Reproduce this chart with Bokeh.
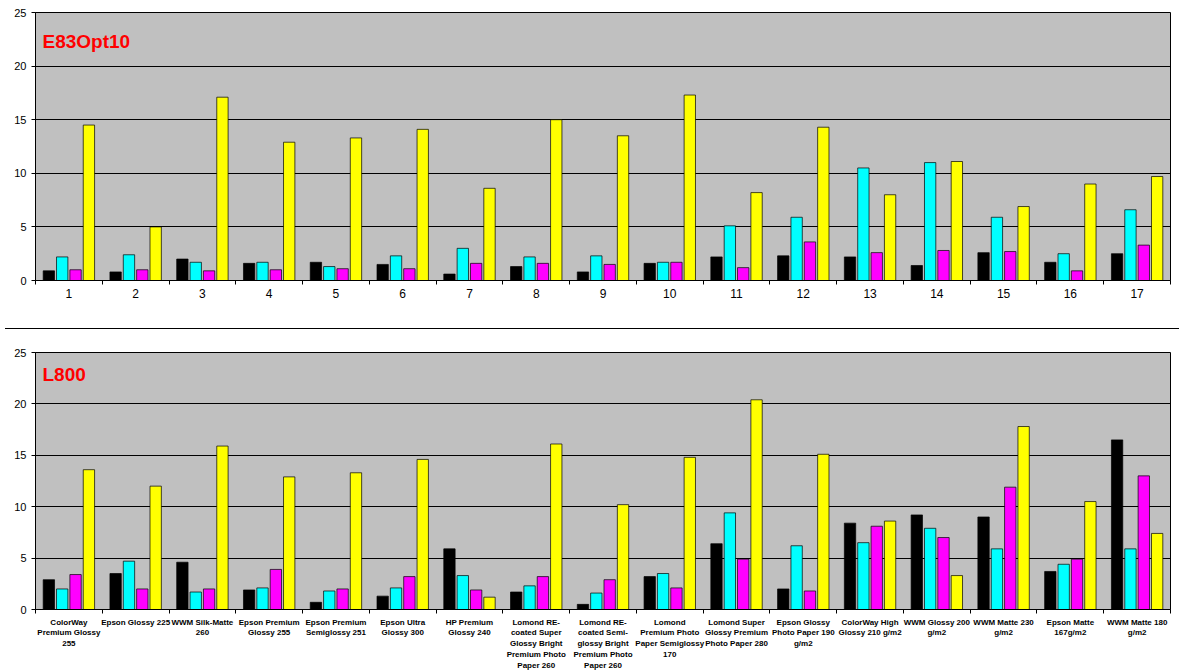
from bokeh.plotting import figure
from bokeh.models import FixedTicker, Label, Div, Range1d
from bokeh.layouts import column
from bokeh.embed import file_html
from bokeh.resources import INLINE

idx = list(range(1, 18))
top_labels = [str(i) for i in idx]
top_black = [0.9, 0.8, 2.0, 1.6, 1.7, 1.5, 0.6, 1.3, 0.8, 1.6, 2.2, 2.3, 2.2, 1.4, 2.6, 1.7, 2.5]
top_cyan = [2.2, 2.4, 1.7, 1.7, 1.3, 2.3, 3.0, 2.2, 2.3, 1.7, 5.1, 5.9, 10.5, 11.0, 5.9, 2.5, 6.6]
top_magenta = [1.0, 1.0, 0.9, 1.0, 1.1, 1.1, 1.6, 1.6, 1.5, 1.7, 1.2, 3.6, 2.6, 2.8, 2.7, 0.9, 3.3]
top_yellow = [14.5, 5.0, 17.1, 12.9, 13.3, 14.1, 8.6, 15.0, 13.5, 17.3, 8.2, 14.3, 8.0, 11.1, 6.9, 9.0, 9.7]

bot_labels = [
    "ColorWay\nPremium Glossy\n255", "Epson Glossy 225", "WWM Silk-Matte\n260",
    "Epson Premium\nGlossy 255", "Epson Premium\nSemiglossy 251", "Epson Ultra\nGlossy 300",
    "HP Premium\nGlossy 240", "Lomond RE-\ncoated Super\nGlossy Bright\nPremium Photo\nPaper 260",
    "Lomond RE-\ncoated Semi-\nglossy Bright\nPremium Photo\nPaper 260",
    "Lomond\nPremium Photo\nPaper Semiglossy\n170", "Lomond Super\nGlossy Premium\nPhoto Paper 280",
    "Epson Glossy\nPhoto Paper 190\ng/m2", "ColorWay High\nGlossy 210 g/m2", "WWM Glossy 200\ng/m2",
    "WWM Matte 230\ng/m2", "Epson Matte\n167g/m2", "WWM Matte 180\ng/m2"]
bot_black = [2.9, 3.5, 4.6, 1.9, 0.7, 1.3, 5.9, 1.7, 0.5, 3.2, 6.4, 2.0, 8.4, 9.2, 9.0, 3.7, 16.5]
bot_cyan = [2.0, 4.7, 1.7, 2.1, 1.8, 2.1, 3.3, 2.3, 1.6, 3.5, 9.4, 6.2, 6.5, 7.9, 5.9, 4.4, 5.9]
bot_magenta = [3.4, 2.0, 2.0, 3.9, 2.0, 3.2, 1.9, 3.2, 2.9, 2.1, 4.9, 1.8, 8.1, 7.0, 11.9, 4.9, 13.0]
bot_yellow = [13.6, 12.0, 15.9, 12.9, 13.3, 14.6, 1.2, 16.1, 10.2, 14.8, 20.4, 15.1, 8.6, 3.3, 17.8, 10.5, 7.4]

colors = ["black", "#00FFFF", "#FF00FF", "#FFFF00"]
offsets = [-0.3, -0.1, 0.1, 0.3]


def make(title, title_y, labels, series, height, border_top, border_bottom):
    p = figure(width=1174, height=height, output_backend="svg", toolbar_location=None,
               x_range=Range1d(0.5, 17.5), y_range=Range1d(0, 25),
               min_border_left=35, min_border_right=4,
               min_border_top=border_top, min_border_bottom=border_bottom)
    p.border_fill_color = "white"
    p.outline_line_color = "black"
    p.background_fill_color = "#C0C0C0"
    for vals, c, o in zip(series, colors, offsets):
        p.vbar(x=[i + o for i in idx], top=vals, width=0.17, fill_color=c,
               line_color="black", line_width=0.7)
    p.xaxis.ticker = FixedTicker(ticks=idx, minor_ticks=[i + 0.5 for i in range(0, 18)])
    p.xaxis.major_label_overrides = {i: l for i, l in zip(idx, labels)}
    p.xaxis.major_tick_out = 0
    p.xaxis.major_tick_in = 0
    p.xaxis.minor_tick_out = 4
    p.xaxis.minor_tick_in = 0
    p.xaxis.major_label_standoff = 4
    p.yaxis.ticker = FixedTicker(ticks=[0, 5, 10, 15, 20, 25])
    p.yaxis.minor_tick_line_color = None
    p.yaxis.major_tick_out = 4
    p.yaxis.major_tick_in = 0
    for ax in (p.xaxis, p.yaxis):
        ax.major_label_text_font = "Liberation Sans"
        ax.major_label_text_color = "black"
        ax.axis_line_color = "black"
    p.yaxis.major_label_text_font_size = "11px"
    p.xgrid.grid_line_color = None
    p.ygrid.grid_line_color = "black"
    p.ygrid.grid_line_width = 1
    p.add_layout(Label(x=0.5, y=title_y, x_offset=7, text=title,
                       text_color="red", text_font_style="bold", text_font_size="19px",
                       text_font="Liberation Sans"))
    return p


p1 = make("E83Opt10", 21.3, top_labels, [top_black, top_cyan, top_magenta, top_yellow], 323, 12, 43)
p1.xaxis.major_label_text_font_size = "12px"
p2 = make("L800", 21.8, bot_labels, [bot_black, bot_cyan, bot_magenta, bot_yellow], 338, 18, 56)
p2.xaxis.major_label_text_font_size = "8px"
p2.xaxis.major_label_text_font_style = "bold"
sep = Div(width=1174, height=1, styles={"background-color": "black"})

layout = column(p1, sep, p2, spacing=0)
open("out.html", "w").write(file_html(layout, INLINE))
